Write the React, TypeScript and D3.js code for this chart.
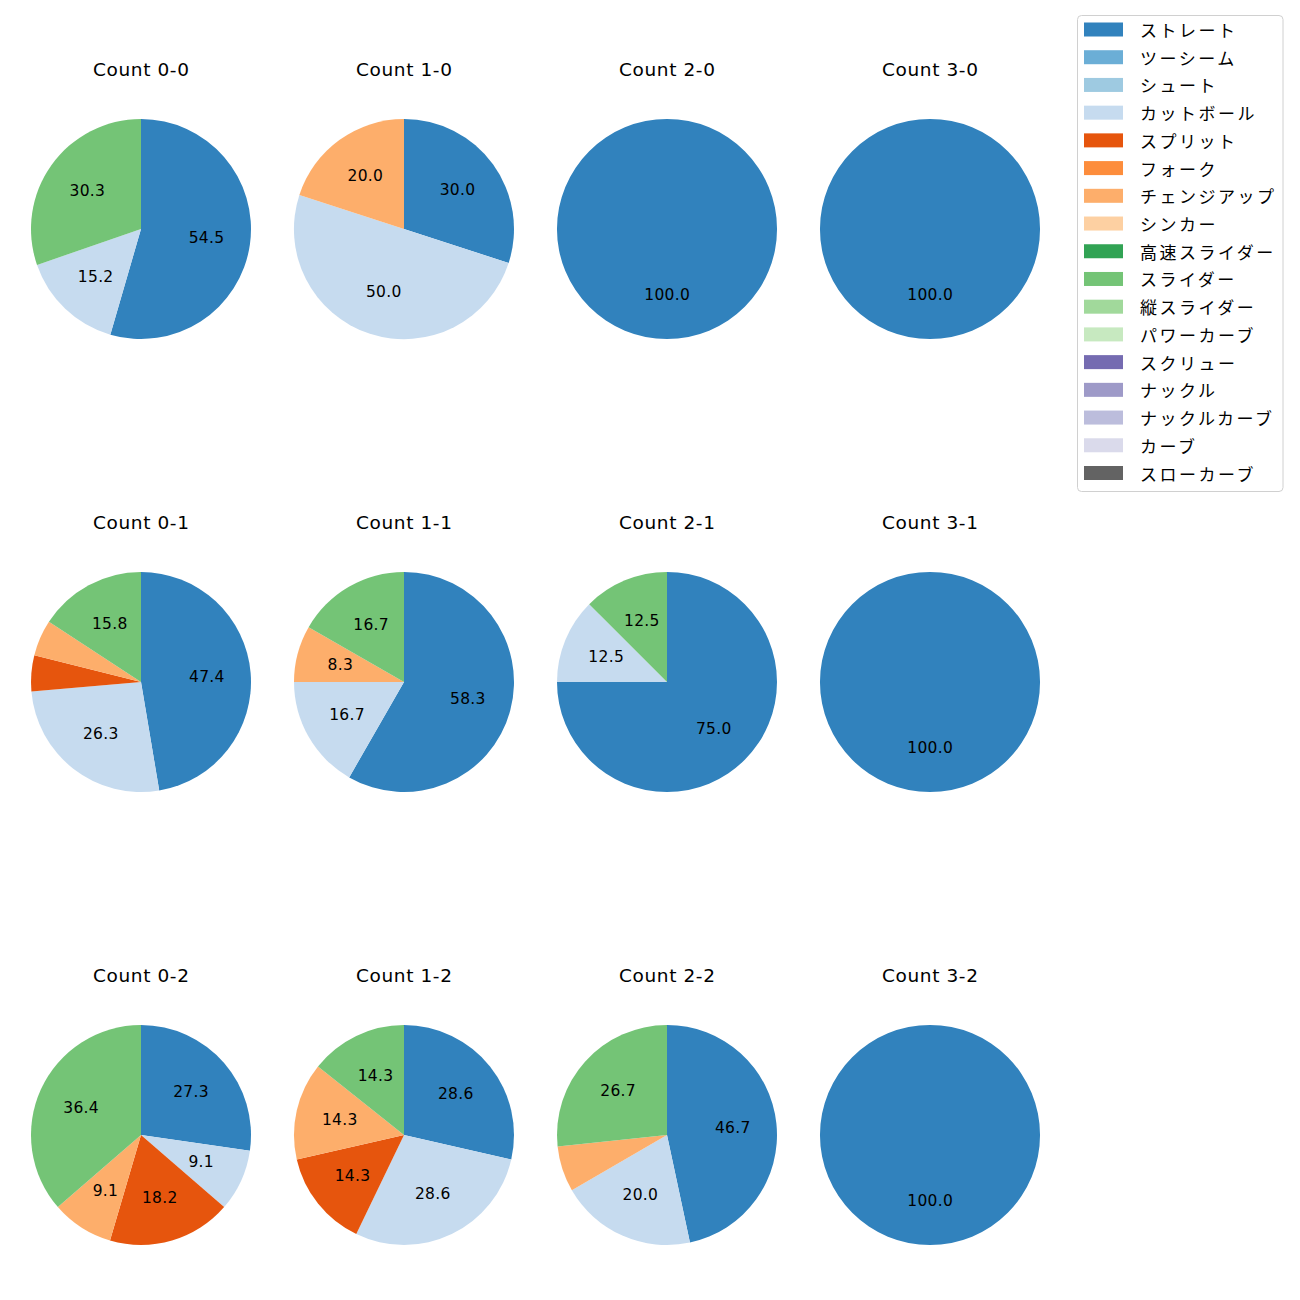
import React from "react";
import * as d3 from "d3";

const pitchNames = [
  "ストレート", "ツーシーム", "シュート", "カットボール", "スプリット", "フォーク",
  "チェンジアップ", "シンカー", "高速スライダー", "スライダー", "縦スライダー",
  "パワーカーブ", "スクリュー", "ナックル", "ナックルカーブ", "カーブ", "スローカーブ",
];
const pitchColors = [
  "#3182bd", "#6baed6", "#9ecae1", "#c6dbef", "#e6550d", "#fd8d3c",
  "#fdae6b", "#fdd0a2", "#31a354", "#74c476", "#a1d99b", "#c7e9c0",
  "#756bb1", "#9e9ac8", "#bcbddc", "#dadaeb", "#636363",
];

const panelTitles = [
  "Count 0-0", "Count 1-0", "Count 2-0", "Count 3-0",
  "Count 0-1", "Count 1-1", "Count 2-1", "Count 3-1",
  "Count 0-2", "Count 1-2", "Count 2-2", "Count 3-2",
];

// percentages per pitch type, in pitchNames order
const c00 = [54.5, 0, 0, 15.2, 0, 0, 0, 0, 0, 30.3, 0, 0, 0, 0, 0, 0, 0];
const c10 = [30.0, 0, 0, 50.0, 0, 0, 20.0, 0, 0, 0, 0, 0, 0, 0, 0, 0, 0];
const c20 = [100, 0, 0, 0, 0, 0, 0, 0, 0, 0, 0, 0, 0, 0, 0, 0, 0];
const c30 = [100, 0, 0, 0, 0, 0, 0, 0, 0, 0, 0, 0, 0, 0, 0, 0, 0];
const c01 = [47.4, 0, 0, 26.3, 5.3, 0, 5.3, 0, 0, 15.8, 0, 0, 0, 0, 0, 0, 0];
const c11 = [58.3, 0, 0, 16.7, 0, 0, 8.3, 0, 0, 16.7, 0, 0, 0, 0, 0, 0, 0];
const c21 = [75.0, 0, 0, 12.5, 0, 0, 0, 0, 0, 12.5, 0, 0, 0, 0, 0, 0, 0];
const c31 = [100, 0, 0, 0, 0, 0, 0, 0, 0, 0, 0, 0, 0, 0, 0, 0, 0];
const c02 = [27.3, 0, 0, 9.1, 18.2, 0, 9.1, 0, 0, 36.4, 0, 0, 0, 0, 0, 0, 0];
const c12 = [28.6, 0, 0, 28.6, 14.3, 0, 14.3, 0, 0, 14.3, 0, 0, 0, 0, 0, 0, 0];
const c22 = [46.7, 0, 0, 20.0, 0, 0, 6.7, 0, 0, 26.7, 0, 0, 0, 0, 0, 0, 0];
const c32 = [100, 0, 0, 0, 0, 0, 0, 0, 0, 0, 0, 0, 0, 0, 0, 0, 0];

const panelData = [c00, c10, c20, c30, c01, c11, c21, c31, c02, c12, c22, c32];

const LATIN = "'DejaVu Sans', 'Noto Sans', sans-serif";
const CJK = "'Noto Sans CJK JP', 'Noto Sans', sans-serif";

export default function App() {
  const W = 1300, H = 1300;
  const R = 110;
  const colX = d3.scalePoint<number>().domain([0, 1, 2, 3]).range([141, 930]);
  const rowY = d3.scalePoint<number>().domain([0, 1, 2]).range([229, 1135]);
  const pie = d3.pie<number>().sort(null).value((d) => d).startAngle(0).endAngle(2 * Math.PI);
  const arc = d3.arc<d3.PieArcDatum<number>>().innerRadius(0).outerRadius(R);
  const labelArc = d3.arc<d3.PieArcDatum<number>>().innerRadius(R * 0.6).outerRadius(R * 0.6);

  const legendY = d3.scaleLinear().domain([0, 16]).range([29.5, 473]);

  const titleLS = 0.6;
  const labelLS = 0.3;

  return (
    <svg width={W} height={H} style={{ display: "block", position: "absolute", left: 0, top: 0 }}>
      <rect x={0} y={0} width={W} height={H} fill="white" />
      {panelData.map((vals, i) => {
        const cx = colX(i % 4)!;
        const cy = rowY(Math.floor(i / 4))!;
        const arcs = pie(vals);
        const total = d3.sum(vals);
        return (
          <g key={i}>
            <text x={cx + titleLS / 2} y={cy - 160} textAnchor="middle" dominantBaseline="central"
              fontFamily={LATIN} fontSize={18.5} letterSpacing={titleLS} fill="#000">{panelTitles[i]}</text>
            <g transform={`translate(${cx},${cy})`}>
              {arcs.map((a, j) => a.value > 0 ? (
                <path key={j} d={arc(a)!} fill={pitchColors[j]} />
              ) : null)}
              {arcs.map((a, j) => {
                const p = (a.value / total) * 100;
                if (a.value <= 0 || p < 7) return null;
                const [lx, ly] = labelArc.centroid(a);
                return (
                  <text key={"l" + j} x={lx + labelLS / 2} y={ly} textAnchor="middle" dominantBaseline="central"
                    fontFamily={LATIN} fontSize={15.5} letterSpacing={labelLS} fill="#000">{p.toFixed(1)}</text>
                );
              })}
            </g>
          </g>
        );
      })}
      <g>
        <rect x={1077.5} y={15.5} width={205.5} height={476} rx={4} ry={4}
          fill="white" stroke="#d0d0d0" strokeWidth={1} />
        {pitchNames.map((n, k) => (
          <g key={n}>
            <rect x={1084} y={legendY(k) - 7} width={39} height={14} fill={pitchColors[k]} />
            <text x={1140} y={legendY(k)} dominantBaseline="central" fontFamily={CJK}
              fontSize={17} letterSpacing={2.5} fill="#000">{n}</text>
          </g>
        ))}
      </g>
    </svg>
  );
}
